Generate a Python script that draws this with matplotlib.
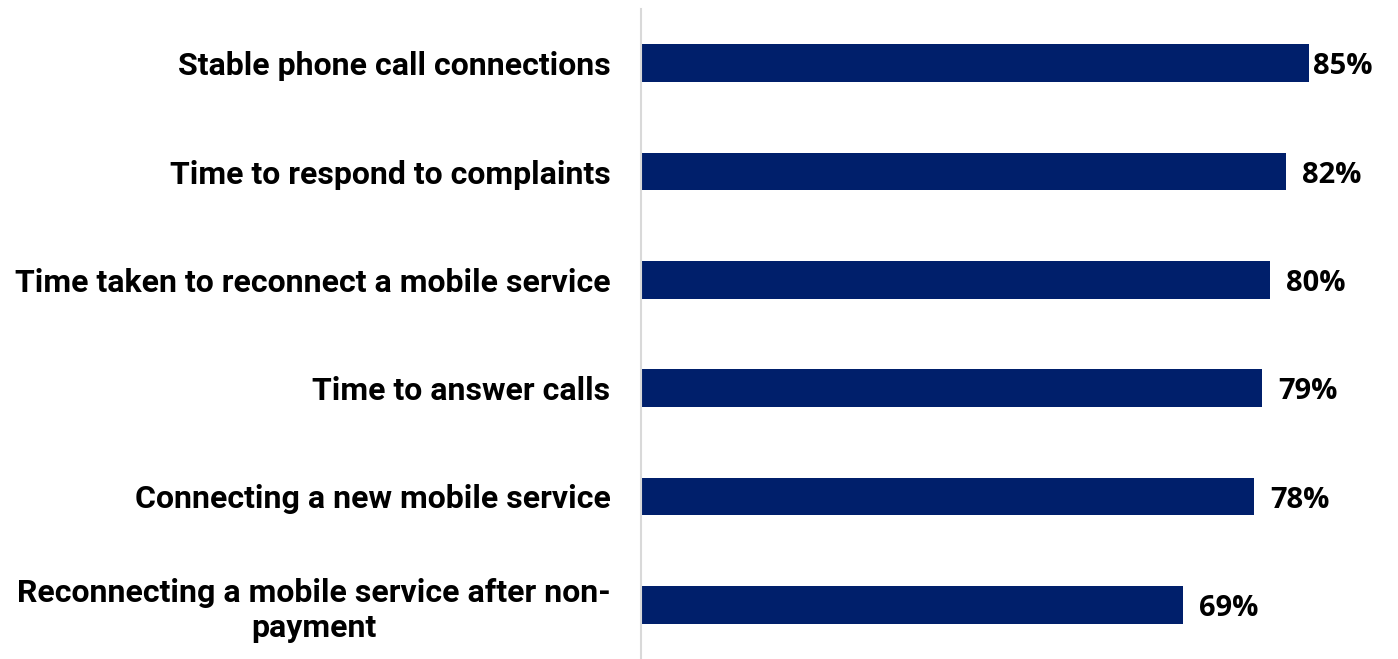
import matplotlib
matplotlib.use("Agg")
import matplotlib.pyplot as plt

categories = [
    "Stable phone call connections",
    "Time to respond to complaints",
    "Time taken to reconnect a mobile service",
    "Time to answer calls",
    "Connecting a new mobile service",
    "Reconnecting a mobile service after non-\npayment",
]
values = [85, 82, 80, 79, 78, 69]
value_labels = ["85%", "82%", "80%", "79%", "78%", "69%"]

W, H = 1398, 659
fig = plt.figure(figsize=(W / 100, H / 100), dpi=100)
left_px, right_px, top_px = 641, 1372, 9
ax = fig.add_axes([left_px / W, 0, (right_px - left_px) / W, 1 - top_px / H])

bar_color = "#001F6B"
y = list(range(len(categories)))
ax.barh(y, values, height=0.35, color=bar_color)
ax.set_ylim(len(categories) - 0.5, -0.5)
xmax = 93.0
ax.set_xlim(0, xmax)

ax.set_yticks(y)
ax.set_yticklabels(categories, fontsize=23, fontweight="bold",
                   family=["Roboto", "DejaVu Sans"], ha="right",
                   multialignment="center", linespacing=1.2)
ax.tick_params(axis="y", length=0, pad=22)
ax.set_xticks([])
for s in ["top", "right", "bottom"]:
    ax.spines[s].set_visible(False)
ax.spines["left"].set_color("#d9d9d9")
ax.spines["left"].set_linewidth(1.5)

fig.canvas.draw()
renderer = fig.canvas.get_renderer()

px_per_unit = (right_px - left_px) / xmax
texts = []
for yi, v, s in zip(y, values, value_labels):
    t = ax.text(v + 16 / px_per_unit, yi, s, va="center_baseline", ha="left",
                fontsize=21, fontweight="bold",
                family=["Open Sans", "DejaVu Sans"], color="black")
    texts.append((t, v))
fig.canvas.draw()
for t, v in texts:
    bb = t.get_window_extent(renderer)
    if bb.x1 > right_px:
        t.set_x(t.get_position()[0] - (bb.x1 - right_px) / px_per_unit)

fig.savefig("out.png", dpi=100)
